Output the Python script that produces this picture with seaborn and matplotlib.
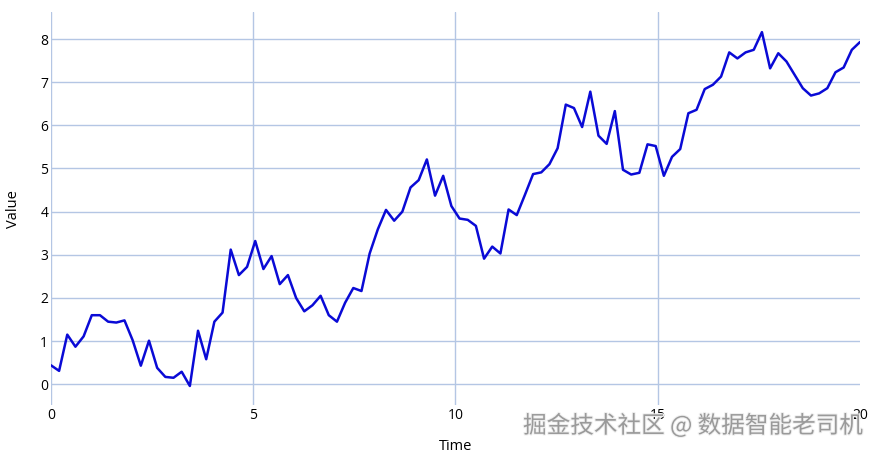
import numpy as np
import pandas as pd
import seaborn as sns
import matplotlib.pyplot as plt
import matplotlib.patheffects as pe

# 100 samples from t=0 to t=20
time = np.linspace(0, 20, 100)
values = [
    0.44, 0.31, 1.15, 0.87, 1.11, 1.60, 1.60, 1.45, 1.43, 1.48,
    1.02, 0.43, 1.01, 0.38, 0.17, 0.15, 0.29, -0.04, 1.24, 0.58,
    1.45, 1.66, 3.12, 2.53, 2.72, 3.32, 2.67, 2.97, 2.32, 2.53,
    2.00, 1.69, 1.83, 2.05, 1.60, 1.45, 1.89, 2.23, 2.16, 3.03,
    3.59, 4.04, 3.79, 4.00, 4.56, 4.73, 5.21, 4.37, 4.83, 4.13,
    3.84, 3.81, 3.67, 2.91, 3.19, 3.03, 4.05, 3.92, 4.39, 4.87,
    4.91, 5.10, 5.47, 6.48, 6.40, 5.96, 6.78, 5.76, 5.57, 6.33,
    4.97, 4.86, 4.90, 5.56, 5.52, 4.83, 5.27, 5.45, 6.28, 6.36,
    6.84, 6.94, 7.13, 7.69, 7.55, 7.69, 7.75, 8.16, 7.32, 7.67,
    7.48, 7.17, 6.86, 6.69, 6.74, 6.86, 7.23, 7.34, 7.75, 7.93,
]
x_ticks = [0, 5, 10, 15, 20]
y_ticks = [0, 1, 2, 3, 4, 5, 6, 7, 8]

df = pd.DataFrame({"Time": time, "Value": values})

sns.set_style("white")
plt.rcParams["font.family"] = ["Open Sans", "DejaVu Sans"]

fig = plt.figure(figsize=(8.78, 4.54), dpi=100)
ax = fig.add_axes([0.058, 0.108, 0.9215, 0.865])

sns.lineplot(data=df, x="Time", y="Value", color="#0a0ad6", linewidth=1.8, ax=ax)

ax.set_xlim(0, 20)
ax.set_ylim(-0.48, 8.62)
ax.set_xticks(x_ticks)
ax.set_yticks(y_ticks)
ax.grid(True, color="#b4c6e4", linewidth=1.0)
ax.xaxis.get_gridlines()[-1].set_visible(False)
for s in ax.spines.values():
    s.set_visible(False)
ax.tick_params(length=0, labelsize=10, pad=2, labelcolor="black")
ax.set_xlabel("Time", fontsize=10.5, labelpad=12, color="black")
ax.set_ylabel("Value", fontsize=10.5, labelpad=14, color="black")

fig.text(0.983, 0.063, "掘金技术社区 @ 数据智能老司机", ha="right", va="center",
         fontsize=17, color="#9a9a9a",
         family=["Noto Sans CJK SC", "DejaVu Sans"],
         path_effects=[pe.withStroke(linewidth=1.5, foreground="#f0f0f0")])

fig.savefig("out.png", dpi=100)
